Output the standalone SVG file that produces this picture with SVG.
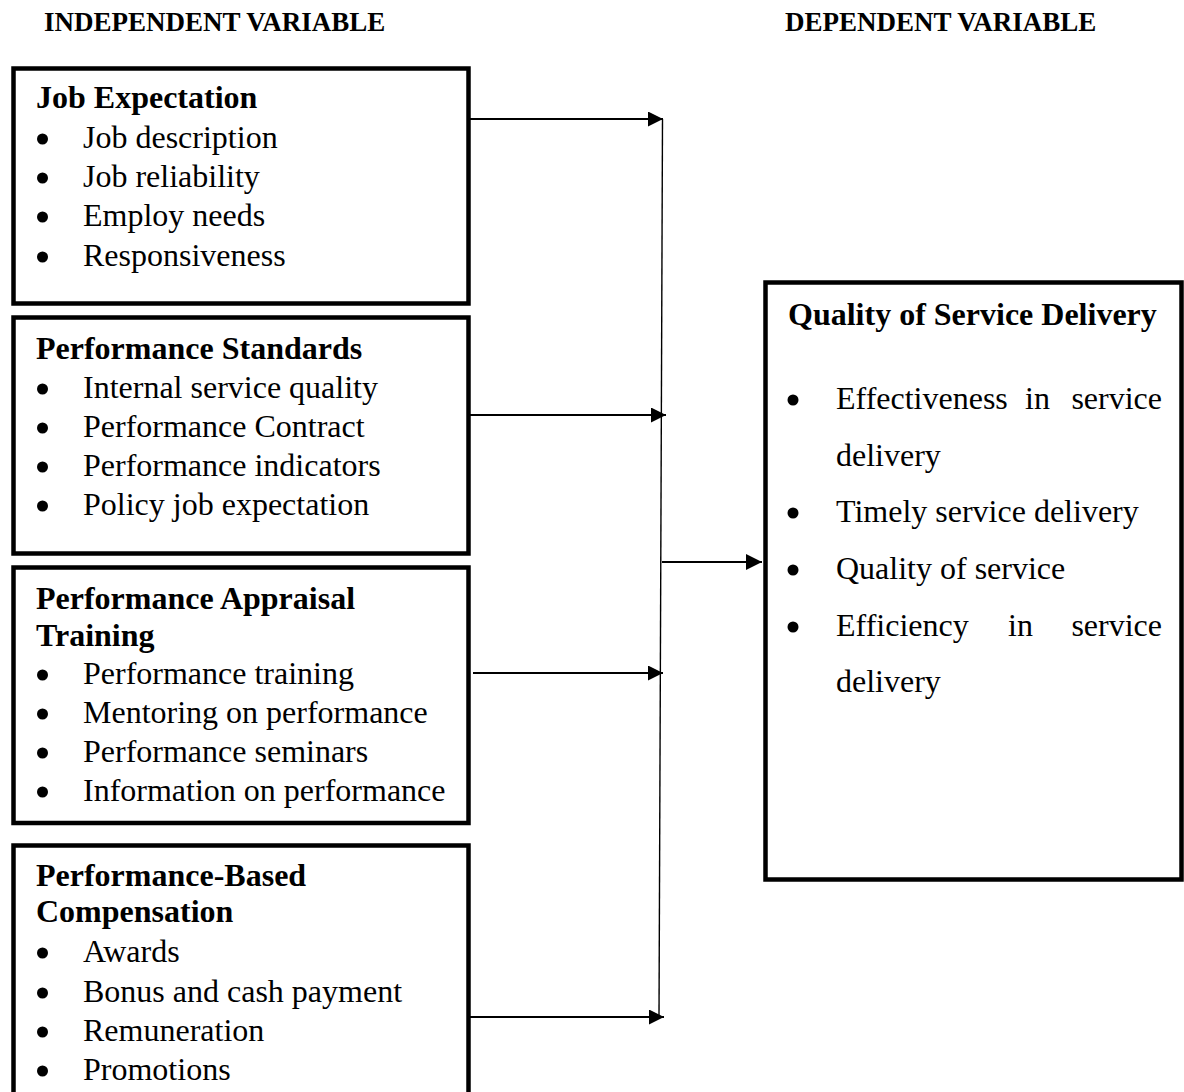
<svg xmlns="http://www.w3.org/2000/svg" width="1184" height="1092" viewBox="0 0 1184 1092">
  <defs>
    <style>
      .box { fill: #ffffff; stroke: #000000; stroke-width: 4.5; }
      .hdr { font-family: "Liberation Serif", "Times New Roman", serif; font-weight: bold; font-size: 27px; fill: #000; }
      .ttl { font-family: "Liberation Serif", "Times New Roman", serif; font-weight: bold; font-size: 32px; fill: #000; }
      .itm { font-family: "Liberation Serif", "Times New Roman", serif; font-size: 32px; fill: #000; }
      .dot { fill: #000; }
      .link { fill: none; stroke: #000; stroke-width: 2; }
      .bus { fill: none; stroke: #000; stroke-width: 1.4; }
    </style>
    <marker id="head" markerUnits="userSpaceOnUse" markerWidth="16" markerHeight="16" refX="15" refY="7.5" orient="auto">
      <path d="M0,0 L15,7.5 L0,15 Z" fill="#000"/>
    </marker>
    <marker id="headBig" markerUnits="userSpaceOnUse" markerWidth="17" markerHeight="17" refX="16" refY="8" orient="auto">
      <path d="M0,0 L16,8 L0,16 Z" fill="#000"/>
    </marker>
  </defs>

  <rect width="1184" height="1092" fill="#ffffff"/>

  <!-- column headings -->
  <text class="hdr" x="44" y="31">INDEPENDENT VARIABLE</text>
  <text class="hdr" x="785" y="31">DEPENDENT VARIABLE</text>

  <!-- Job Expectation -->
  <g id="job-expectation">
    <rect class="box" x="13.5" y="68.5" width="455" height="235"/>
    <text class="ttl" x="36" y="108">Job Expectation</text>
    <circle class="dot" cx="42.5" cy="139" r="5.5"/>
    <circle class="dot" cx="42.5" cy="178" r="5.5"/>
    <circle class="dot" cx="42.5" cy="217" r="5.5"/>
    <circle class="dot" cx="42.5" cy="257" r="5.5"/>
    <text class="itm" x="83" y="148">Job description</text>
    <text class="itm" x="83" y="187">Job reliability</text>
    <text class="itm" x="83" y="226">Employ needs</text>
    <text class="itm" x="83" y="266">Responsiveness</text>
  </g>

  <!-- Performance Standards -->
  <g id="performance-standards">
    <rect class="box" x="13.5" y="317.5" width="455" height="236"/>
    <text class="ttl" x="36" y="359">Performance Standards</text>
    <circle class="dot" cx="42.5" cy="389" r="5.5"/>
    <circle class="dot" cx="42.5" cy="428" r="5.5"/>
    <circle class="dot" cx="42.5" cy="467" r="5.5"/>
    <circle class="dot" cx="42.5" cy="506" r="5.5"/>
    <text class="itm" x="83" y="398">Internal service quality</text>
    <text class="itm" x="83" y="437">Performance Contract</text>
    <text class="itm" x="83" y="476">Performance indicators</text>
    <text class="itm" x="83" y="515">Policy job expectation</text>
  </g>

  <!-- Performance Appraisal Training -->
  <g id="appraisal-training">
    <rect class="box" x="13.5" y="567.5" width="455" height="255.5"/>
    <text class="ttl" x="36" y="609">Performance Appraisal</text>
    <text class="ttl" x="36" y="646">Training</text>
    <circle class="dot" cx="42.5" cy="675" r="5.5"/>
    <circle class="dot" cx="42.5" cy="714" r="5.5"/>
    <circle class="dot" cx="42.5" cy="753" r="5.5"/>
    <circle class="dot" cx="42.5" cy="792" r="5.5"/>
    <text class="itm" x="83" y="684">Performance training</text>
    <text class="itm" x="83" y="723">Mentoring on performance</text>
    <text class="itm" x="83" y="762">Performance seminars</text>
    <text class="itm" x="83" y="801">Information on performance</text>
  </g>

  <!-- Performance-Based Compensation -->
  <g id="compensation">
    <rect class="box" x="13.5" y="845.5" width="455" height="300"/>
    <text class="ttl" x="36" y="886">Performance-Based</text>
    <text class="ttl" x="36" y="922">Compensation</text>
    <circle class="dot" cx="42.5" cy="953" r="5.5"/>
    <circle class="dot" cx="42.5" cy="993" r="5.5"/>
    <circle class="dot" cx="42.5" cy="1032" r="5.5"/>
    <circle class="dot" cx="42.5" cy="1071" r="5.5"/>
    <text class="itm" x="83" y="962">Awards</text>
    <text class="itm" x="83" y="1002">Bonus and cash payment</text>
    <text class="itm" x="83" y="1041">Remuneration</text>
    <text class="itm" x="83" y="1080">Promotions</text>
  </g>

  <!-- Quality of Service Delivery -->
  <g id="service-delivery">
    <rect class="box" x="765.5" y="282.5" width="416" height="597"/>
    <text class="ttl" x="788" y="325">Quality of Service Delivery</text>
    <circle class="dot" cx="793" cy="400" r="5.5"/>
    <circle class="dot" cx="793" cy="513" r="5.5"/>
    <circle class="dot" cx="793" cy="570" r="5.5"/>
    <circle class="dot" cx="793" cy="627" r="5.5"/>
    <text class="itm" y="409"><tspan x="836">Effectiveness</tspan><tspan x="1025">in</tspan></text>
    <text class="itm" x="1162" y="409" text-anchor="end">service</text>
    <text class="itm" x="836" y="466">delivery</text>
    <text class="itm" x="836" y="522">Timely service delivery</text>
    <text class="itm" x="836" y="579">Quality of service</text>
    <text class="itm" y="636"><tspan x="836">Efficiency</tspan><tspan x="1008">in</tspan></text>
    <text class="itm" x="1162" y="636" text-anchor="end">service</text>
    <text class="itm" x="836" y="692">delivery</text>
  </g>

  <!-- connectors -->
  <g id="connectors">
    <path class="bus" d="M662.5,119 L659,1017"/>
    <path class="link" d="M470,119 H663" marker-end="url(#head)"/>
    <path class="link" d="M470,415 H666" marker-end="url(#head)"/>
    <path class="link" d="M473,673 H663" marker-end="url(#head)"/>
    <path class="link" d="M470,1017 H664" marker-end="url(#head)"/>
    <path class="link" d="M662,562 H762" marker-end="url(#headBig)"/>
  </g>
</svg>
